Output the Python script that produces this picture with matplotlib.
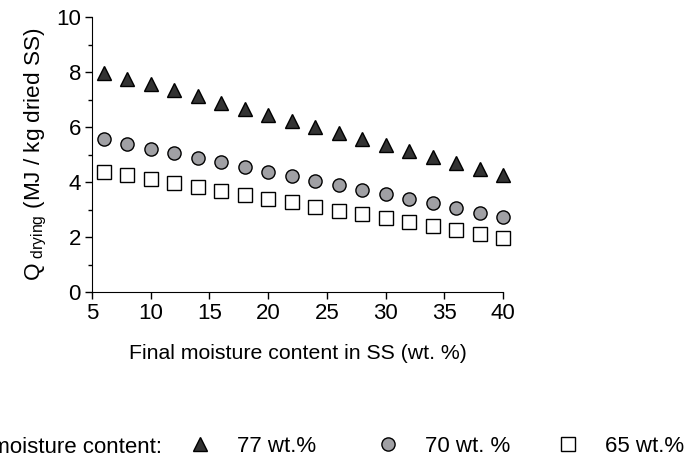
import matplotlib.pyplot as plt
from matplotlib.ticker import MultipleLocator

plt.rcParams['font.family'] = ['Liberation Sans', 'DejaVu Sans']

# Final moisture content (wt. %)
moisture = [6, 8, 10, 12, 14, 16, 18, 20, 22, 24, 26, 28, 30, 32, 34, 36, 38, 40]
# Q drying (MJ / kg dried SS) for each initial moisture content
q_77 = [7.96, 7.75, 7.55, 7.33, 7.11, 6.88, 6.66, 6.44, 6.23, 6.01, 5.80, 5.58,
        5.36, 5.13, 4.92, 4.69, 4.48, 4.26]
q_70 = [5.55, 5.38, 5.21, 5.04, 4.87, 4.71, 4.54, 4.37, 4.22, 4.05, 3.88, 3.72,
        3.56, 3.38, 3.22, 3.05, 2.88, 2.72]
q_65 = [4.37, 4.25, 4.11, 3.96, 3.82, 3.68, 3.52, 3.39, 3.26, 3.10, 2.96, 2.82,
        2.69, 2.54, 2.39, 2.26, 2.11, 1.97]

W, H = 690, 463
fig = plt.figure(figsize=(6.9, 4.63), dpi=100)
ax = fig.add_axes([92 / W, 1 - 292 / H, 411 / W, 275 / H])

h77, = ax.plot(moisture, q_77, ls='none', marker='^', ms=10, mfc='#333333', mec='black',
               mew=1, label='77 wt.%', clip_on=False)
h70, = ax.plot(moisture, q_70, ls='none', marker='o', ms=9.5, mfc='#a0a0a4', mec='black',
               mew=1, label='70 wt. %', clip_on=False)
h65, = ax.plot(moisture, q_65, ls='none', marker='s', ms=9.5, mfc='white', mec='black',
               mew=1, label='65 wt.%', clip_on=False)

ax.set_xlim(5, 40)
ax.set_ylim(0, 10)
ax.xaxis.set_major_locator(MultipleLocator(5))
ax.yaxis.set_major_locator(MultipleLocator(2))
ax.yaxis.set_minor_locator(MultipleLocator(1))
ax.tick_params(labelsize=16, width=1, length=5, direction='out', pad=3)
ax.tick_params(which='minor', width=1, length=3)
ax.spines['top'].set_visible(False)
ax.spines['right'].set_visible(False)

ax.set_xlabel('Final moisture content in SS (wt. %)', fontsize=15.3, labelpad=14)
ax.set_ylabel(r'Q$_{\mathregular{\ drying}}$ (MJ / kg dried SS)', fontsize=16.2, labelpad=5)

# legend row along the bottom
fig.text(162 / W, 1 - 453 / H, 'Initial moisture content:', fontsize=16,
         ha='right', va='baseline')
for handle, x0 in [(h77, 189), (h70, 377), (h65, 557)]:
    fig.legend(handles=[handle], loc='center left', bbox_to_anchor=(x0 / W, 1 - 446 / H),
               frameon=False, fontsize=16, handlelength=1.0, handletextpad=1.17,
               borderpad=0, borderaxespad=0, markerscale=1.0)

fig.savefig('out.png', dpi=100)
